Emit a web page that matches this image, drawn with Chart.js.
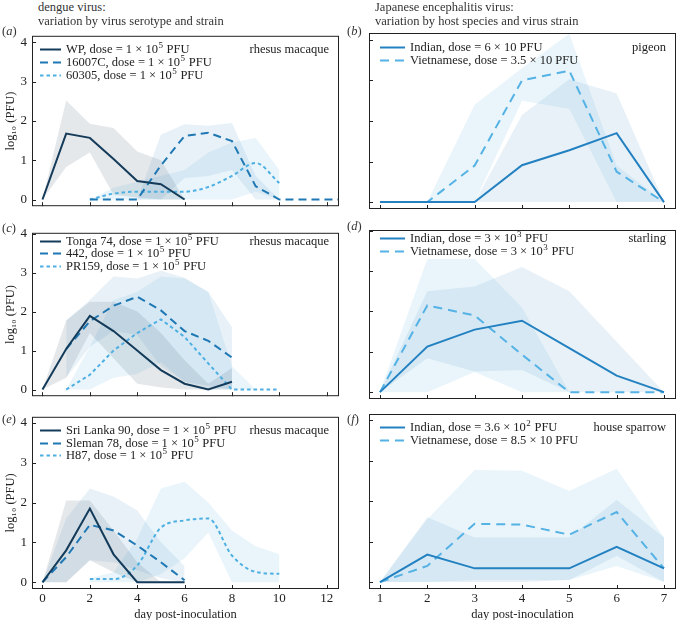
<!DOCTYPE html>
<html>
<head>
<meta charset="utf-8">
<script src="https://cdn.jsdelivr.net/npm/chart.js@4.4.1/dist/chart.umd.min.js"></script>
<style>
html, body { margin: 0; padding: 0; width: 676px; height: 620px; overflow: hidden; background: #fff; }
#wrap { position: relative; width: 676px; height: 620px; font-family: 'Liberation Serif', 'DejaVu Serif', serif; color: #222; }
canvas { position: absolute; }
.txt { position: absolute; font-size: 12.5px; line-height: 15px; white-space: nowrap; color: #333; }
</style>
</head>
<body>
<div id="wrap">
  <canvas id="pa" width="339" height="196" style="left:0;top:23px"></canvas>
  <canvas id="pb" width="317" height="196" style="left:359px;top:23px"></canvas>
  <canvas id="pc" width="339" height="189" style="left:0;top:220px"></canvas>
  <canvas id="pd" width="317" height="189" style="left:359px;top:220px"></canvas>
  <canvas id="pe" width="339" height="219" style="left:0;top:404px"></canvas>
  <canvas id="pf" width="317" height="219" style="left:359px;top:404px"></canvas>

  <div class="txt" style="left:38px;top:0">dengue virus:</div>
  <div class="txt" style="left:38px;top:14px">variation by virus serotype and strain</div>
  <div class="txt" style="left:375px;top:0">Japanese encephalitis virus:</div>
  <div class="txt" style="left:375px;top:14px">variation by host species and virus strain</div>

  <div class="txt" style="left:2px;top:24px">(<i>a</i>)</div>
  <div class="txt" style="left:347px;top:24px">(<i>b</i>)</div>
  <div class="txt" style="left:2px;top:221px">(<i>c</i>)</div>
  <div class="txt" style="left:347px;top:219px">(<i>d</i>)</div>
  <div class="txt" style="left:2px;top:412px">(<i>e</i>)</div>
  <div class="txt" style="left:347px;top:412px">(<i>f</i>)</div>
</div>

<script>
// tick labels
var xTicksDengue = [0, 2, 4, 6, 8, 10, 12];
var xTicksJev = [1, 2, 3, 4, 5, 6, 7];
var yTicks = [0, 1, 2, 3, 4];

// (a) rhesus macaque, serotype variation
var wpDays = [0, 1, 2, 3, 4, 5, 6];
var wpMean = [0, 1.68, 1.57, 1.03, 0.47, 0.39, 0];
var wpHi = [0, 2.52, 1.93, 1.82, 1.22, 1.0, 0];
var wpLo = [0, 0.83, 1.2, 0.12, 0.05, 0, 0];

var s16007Days = [2, 3, 4, 5, 6, 7, 8, 9, 10, 11, 12, 13];
var s16007Mean = [0, 0, 0, 0.87, 1.62, 1.70, 1.49, 0.34, 0, 0, 0, 0];
var s16007Hi = [0, 0, 0, 1.65, 1.92, 1.88, 1.95, 0.6, 0, 0, 0, 0];
var s16007Lo = [0, 0, 0, 0, 0.55, 0.6, 0.75, 0, 0, 0, 0, 0];

var s60305Days = [2, 3, 4, 5, 6, 7, 8, 9, 10];
var s60305Mean = [0, 0.15, 0.2, 0.2, 0.2, 0.32, 0.6, 0.93, 0.42];
var s60305Hi = [0, 0.3, 0.45, 0.6, 0.75, 1.2, 1.45, 1.57, 0.75];
var s60305Lo = [0, 0, 0, 0, 0, 0, 0, 0.2, 0];

// (c) rhesus macaque
var tongaDays = [0, 1, 2, 3, 4, 5, 6, 7, 8];
var tongaMean = [0, 1.04, 1.89, 1.5, 1.0, 0.5, 0.15, 0, 0.2];
var tongaHi = [0, 1.77, 2.25, 2.25, 2.0, 1.45, 0.75, 0.15, 0.55];
var tongaLo = [0, 0.3, 1.45, 0.8, 0.15, 0.05, 0, 0, 0];

var s442Days = [1, 2, 3, 4, 5, 6, 7, 8];
var s442Mean = [1.04, 1.75, 2.15, 2.38, 2.03, 1.5, 1.25, 0.82];
var s442Hi = [1.77, 2.3, 2.9, 2.85, 3.05, 2.87, 2.5, 1.6];
var s442Lo = [0.3, 1.1, 1.5, 1.4, 0.6, 0.2, 0.1, 0];

var pr159Days = [1, 2, 3, 4, 5, 6, 7, 8, 9, 10];
var pr159Mean = [0, 0.38, 1.0, 1.45, 1.8, 1.35, 0.67, 0, 0, 0];
var pr159Hi = [0, 1.1, 2.3, 2.5, 2.9, 2.85, 2.5, 0.6, 0, 0];
var pr159Lo = [0, 0, 0.3, 0.4, 0.7, 0.2, 0, 0, 0, 0];

// (e) rhesus macaque
var slDays = [0, 1, 2, 3, 4, 5, 6];
var slMean = [0, 0.8, 1.85, 0.7, 0, 0, 0];
var slHi = [0, 2.05, 2.05, 1.3, 0.5, 0, 0];
var slLo = [0, 0, 0.55, 0.25, 0, 0, 0];

var smDays = [0, 1, 2, 3, 4, 5, 6];
var smMean = [0, 0.63, 1.44, 1.3, 0.92, 0.5, 0.05];
var smHi = [0, 1.6, 2.35, 2.15, 1.8, 1.0, 0.4];
var smLo = [0, 0, 0.55, 0.5, 0.3, 0.1, 0];

var h87Days = [2, 3, 4, 5, 6, 7, 8, 9, 10];
var h87Mean = [0.08, 0.08, 0.42, 1.37, 1.55, 1.6, 0.67, 0.26, 0.21];
var h87Hi = [0.1, 0.25, 1.1, 2.35, 2.52, 2.0, 1.3, 0.9, 0.7];
var h87Lo = [0, 0, 0, 0.2, 0.6, 1.25, 0, 0, 0];

// JEV panels, days 1-7
var jevDays = [1, 2, 3, 4, 5, 6, 7];

var pigeonIndMean = [0, 0, 0, 0.91, 1.28, 1.70, 0];
var pigeonIndHi = [0, 0, 0, 2.15, 3.03, 2.68, 0];
var pigeonIndLo = [0, 0, 0, 0, 0, 0, 0];
var pigeonVietMean = [0, 0, 0.9, 3.0, 3.24, 0.75, 0];
var pigeonVietHi = [0, 0, 2.4, 3.3, 4.15, 0.9, 0];
var pigeonVietLo = [0, 0, 0, 2.5, 2.3, 0, 0];

var starlingIndMean = [0, 1.13, 1.55, 1.77, 1.09, 0.41, 0];
var starlingIndHi = [0, 2.5, 2.62, 3.1, 2.5, 1.25, 0];
var starlingIndLo = [0, 0.84, 0.51, 0.55, 0, 0, 0];
var starlingVietMean = [0, 2.15, 1.9, 0.93, 0, 0, 0];
var starlingVietHi = [0, 3.3, 3.3, 2.1, 0, 0, 0];
var starlingVietLo = [0, 0, 0.5, 0, 0, 0, 0];

var sparrowIndMean = [0, 0.68, 0.34, 0.34, 0.34, 0.87, 0.34];
var sparrowIndHi = [0, 1.6, 1.1, 1.1, 1.1, 2.03, 1.1];
var sparrowIndLo = [0, 0, 0, 0, 0.05, 0.65, 0];
var sparrowVietMean = [0, 0.4, 1.44, 1.42, 1.17, 1.73, 0.34];
var sparrowVietHi = [0, 1.55, 2.77, 2.75, 2.25, 2.8, 1.1];
var sparrowVietLo = [0, 0, 0.05, 0.05, 0.05, 0.4, 0];

var NAVY = '#143b5a', MID = '#1f78b4', LIGHT = '#4eb0e2';
var IND = '#2381c1', VIET = '#55b2e5';
var GREY_BAND = 'rgba(45,65,90,0.12)';
var MID_BAND = 'rgba(31,120,180,0.10)';
var LIGHT_BAND = 'rgba(78,176,226,0.12)';

var FONT = "'Liberation Serif', 'DejaVu Serif', serif";
Chart.defaults.font.family = FONT;
Chart.defaults.font.size = 13;
Chart.defaults.color = '#222';

function pts(days, vals) {
    return days.map(function(d, i) { return { x: d, y: vals[i] }; });
}

function line(label, days, vals, color, dash, smooth) {
    return {
        label: label, data: pts(days, vals), borderColor: color, borderWidth: 2,
        borderDash: dash, pointRadius: 0, fill: false, order: 0,
        tension: 0, cubicInterpolationMode: smooth ? 'monotone' : 'default'
    };
}

function band(days, hi, lo, color) {
    return [
        { isBand: true, data: pts(days, hi), borderWidth: 0, borderColor: 'rgba(0,0,0,0)', backgroundColor: color, pointRadius: 0, fill: '+1', order: 1 },
        { isBand: true, data: pts(days, lo), borderWidth: 0, borderColor: 'rgba(0,0,0,0)', backgroundColor: color, pointRadius: 0, fill: false, order: 1 }
    ];
}

var SUP = { '⁰': '0', '¹': '1', '²': '2', '³': '3', '⁴': '4', '⁵': '5', '⁶': '6', '⁷': '7', '⁸': '8', '⁹': '9' };

function drawRich(ctx, text, x, y) {
    var i = 0;
    while (i < text.length) {
        var sup = SUP[text[i]] !== undefined;
        var s = '';
        while (i < text.length && (SUP[text[i]] !== undefined) === sup) {
            s += sup ? SUP[text[i]] : text[i];
            i++;
        }
        ctx.font = (sup ? '9px ' : '12.5px ') + FONT;
        ctx.fillText(s, sup ? x + 0.5 : x, sup ? y - 4 : y);
        x += ctx.measureText(s).width + (sup ? 1 : 0);
    }
}

// frame, inward ticks, legend and host name inside the axes
var panelDecor = {
    id: 'panelDecor',
    afterDatasetsDraw: function(chart, args, opts) {
        var ctx = chart.ctx, a = chart.chartArea, sx = chart.scales.x, sy = chart.scales.y;
        ctx.save();
        ctx.strokeStyle = '#222';
        ctx.lineWidth = 1;
        ctx.setLineDash([]);
        ctx.strokeRect(a.left + 0.5, a.top + 0.5, a.right - a.left - 1, a.bottom - a.top - 1);
        ctx.beginPath();
        sx.ticks.forEach(function(t) {
            var px = Math.round(sx.getPixelForValue(t.value)) + 0.5;
            ctx.moveTo(px, a.bottom); ctx.lineTo(px, a.bottom - 4);
        });
        sy.ticks.forEach(function(t) {
            var py = Math.round(sy.getPixelForValue(t.value)) + 0.5;
            ctx.moveTo(a.left, py); ctx.lineTo(a.left + 4, py);
        });
        ctx.stroke();

        var y0 = sy.getPixelForValue(4) + 7;
        var row = 0;
        ctx.textBaseline = 'middle';
        chart.data.datasets.forEach(function(ds) {
            if (ds.isBand) return;
            var y = Math.round(y0 + row * 12.8) + 0.5;
            ctx.strokeStyle = ds.borderColor;
            ctx.lineWidth = ds.borderWidth;
            ctx.setLineDash(ds.borderDash || []);
            ctx.beginPath();
            ctx.moveTo(a.left + opts.key[0], y); ctx.lineTo(a.left + opts.key[1], y);
            ctx.stroke();
            ctx.fillStyle = '#222';
            ctx.textAlign = 'left';
            drawRich(ctx, ds.label, a.left + opts.key[2], y);
            row++;
        });
        ctx.font = '12.5px ' + FONT;
        ctx.textAlign = 'right';
        ctx.fillStyle = '#222';
        ctx.fillText(opts.host, a.right - 10, Math.round(y0) + 0.5);
        ctx.restore();
    }
};

function makePanel(id, cfg) {
    var left = cfg.left;
    new Chart(document.getElementById(id), {
        type: 'line',
        data: { datasets: cfg.datasets },
        options: {
            responsive: false,
            animation: false,
            layout: { padding: { top: 10, right: 0, left: 0, bottom: 0 } },
            plugins: { legend: { display: false }, tooltip: { enabled: false }, panelDecor: { host: cfg.host, key: cfg.key } },
            scales: {
                x: {
                    type: 'linear', min: cfg.xmin, max: cfg.xmax,
                    afterBuildTicks: function(s) { s.ticks = cfg.xTicks.map(function(v) { return { value: v }; }); },
                    ticks: { display: cfg.bottom, padding: 2, color: '#222' },
                    grid: { display: false, drawTicks: false },
                    border: { display: false },
                    title: { display: cfg.bottom, text: 'day post-inoculation', font: { size: 12.5 }, padding: { top: 0, bottom: 1 }, color: '#222' },
                    afterFit: function(s) { s.height = cfg.bottom ? 34 : 10; }
                },
                y: {
                    type: 'linear', min: -0.17, max: cfg.ymax,
                    afterBuildTicks: function(s) { s.ticks = yTicks.map(function(v) { return { value: v }; }); },
                    ticks: { display: left, padding: 5, color: '#222' },
                    grid: { display: false, drawTicks: false },
                    border: { display: false },
                    title: { display: left, text: 'log₁₀ (PFU)', font: { size: 12.5 }, padding: { top: 3, bottom: 0 }, color: '#222' },
                    afterFit: function(s) { s.width = left ? 32 : 10; }
                }
            }
        },
        plugins: [panelDecor]
    });
}

var XL = { xmin: -0.443, xmax: 12.52, xTicks: xTicksDengue, left: true, key: [8, 29, 34] };
var XR = { xmin: 0.768, xmax: 7.254, xTicks: xTicksJev, left: false, key: [11, 36, 41] };

makePanel('pa', Object.assign({}, XL, {
    ymax: 4.17, bottom: false, host: 'rhesus macaque',
    datasets: [
        line('WP, dose = 1 × 10⁵ PFU', wpDays, wpMean, NAVY, []),
        line('16007C, dose = 1 × 10⁵ PFU', s16007Days, s16007Mean, MID, [8, 5]),
        line('60305, dose = 1 × 10⁵ PFU', s60305Days, s60305Mean, LIGHT, [3.5, 3], true)
    ].concat(band(wpDays, wpHi, wpLo, GREY_BAND), band(s16007Days, s16007Hi, s16007Lo, MID_BAND), band(s60305Days, s60305Hi, s60305Lo, LIGHT_BAND))
}));

makePanel('pc', Object.assign({}, XL, {
    ymax: 4.02, bottom: false, host: 'rhesus macaque',
    datasets: [
        line('Tonga 74, dose = 1 × 10⁵ PFU', tongaDays, tongaMean, NAVY, []),
        line('442, dose = 1 × 10⁵ PFU', s442Days, s442Mean, MID, [8, 5]),
        line('PR159, dose = 1 × 10⁵ PFU', pr159Days, pr159Mean, LIGHT, [3.5, 3])
    ].concat(band(tongaDays, tongaHi, tongaLo, GREY_BAND), band(s442Days, s442Hi, s442Lo, MID_BAND), band(pr159Days, pr159Hi, pr159Lo, LIGHT_BAND))
}));

makePanel('pe', Object.assign({}, XL, {
    ymax: 4.15, bottom: true, host: 'rhesus macaque',
    datasets: [
        line('Sri Lanka 90, dose = 1 × 10⁵ PFU', slDays, slMean, NAVY, []),
        line('Sleman 78, dose = 1 × 10⁵ PFU', smDays, smMean, MID, [8, 5]),
        line('H87, dose = 1 × 10⁵ PFU', h87Days, h87Mean, LIGHT, [3.5, 3], true)
    ].concat(band(slDays, slHi, slLo, GREY_BAND), band(smDays, smHi, smLo, MID_BAND), band(h87Days, h87Hi, h87Lo, LIGHT_BAND))
}));

makePanel('pb', Object.assign({}, XR, {
    ymax: 4.17, bottom: false, host: 'pigeon',
    datasets: [
        line('Indian, dose = 6 × 10 PFU', jevDays, pigeonIndMean, IND, []),
        line('Vietnamese, dose = 3.5 × 10 PFU', jevDays, pigeonVietMean, VIET, [9, 6])
    ].concat(band(jevDays, pigeonIndHi, pigeonIndLo, MID_BAND), band(jevDays, pigeonVietHi, pigeonVietLo, LIGHT_BAND))
}));

makePanel('pd', Object.assign({}, XR, {
    ymax: 4.02, bottom: false, host: 'starling',
    datasets: [
        line('Indian, dose = 3 × 10³ PFU', jevDays, starlingIndMean, IND, []),
        line('Vietnamese, dose = 3 × 10³ PFU', jevDays, starlingVietMean, VIET, [9, 6])
    ].concat(band(jevDays, starlingIndHi, starlingIndLo, MID_BAND), band(jevDays, starlingVietHi, starlingVietLo, LIGHT_BAND))
}));

makePanel('pf', Object.assign({}, XR, {
    ymax: 4.15, bottom: true, host: 'house sparrow',
    datasets: [
        line('Indian, dose = 3.6 × 10² PFU', jevDays, sparrowIndMean, IND, []),
        line('Vietnamese, dose = 8.5 × 10 PFU', jevDays, sparrowVietMean, VIET, [9, 6])
    ].concat(band(jevDays, sparrowIndHi, sparrowIndLo, MID_BAND), band(jevDays, sparrowVietHi, sparrowVietLo, LIGHT_BAND))
}));
</script>
</body>
</html>
